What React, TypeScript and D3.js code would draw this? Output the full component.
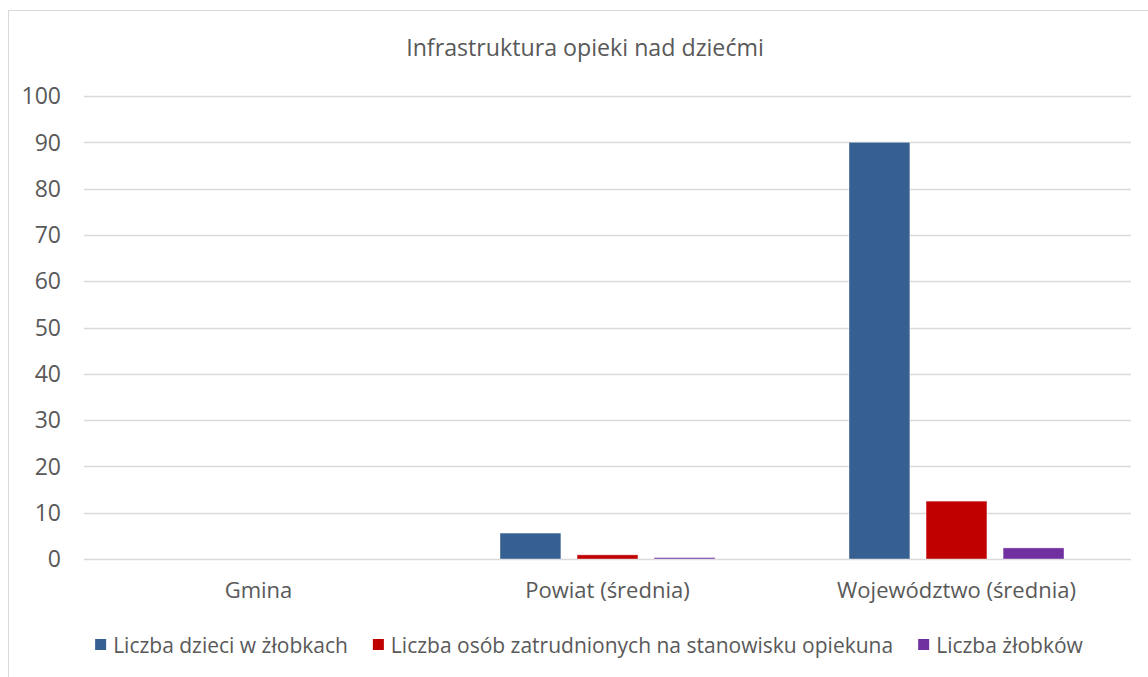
import { scaleBand, scaleLinear, select } from 'd3';
import React, { useEffect, useRef } from 'react';

const categories = ['Gmina', 'Powiat (średnia)', 'Województwo (średnia)'];
const seriesNames = [
  'Liczba dzieci w żłobkach',
  'Liczba osób zatrudnionych na stanowisku opiekuna',
  'Liczba żłobków',
];
const dzieci = [0, 5.6, 90];
const opiekunowie = [0, 0.9, 12.5];
const zlobki = [0, 0.3, 2.4];
const yTicks = [0, 10, 20, 30, 40, 50, 60, 70, 80, 90, 100];
const colors = ['#376092', '#c00000', '#7030a0'];

const W = 1148;
const H = 677;
const FONT = '"Open Sans", sans-serif';

const App: React.FC = () => {
  const svgRef = useRef<SVGSVGElement>(null);

  useEffect(() => {
    document.body.style.margin = '0';
    const svg = select(svgRef.current);
    svg.selectAll('*').remove();

    const left = 84;
    const right = 1131;
    const top = 96;
    const bottom = 559;

    const x = scaleBand().domain(categories).range([left, right]).padding(0);
    const bw = x.bandwidth();
    const inner = scaleBand()
      .domain(seriesNames)
      .range([67, bw - 67])
      .paddingInner(0.21);
    const y = scaleLinear().domain([0, 100]).range([bottom, top]);

    // chart border
    svg
      .append('rect')
      .attr('x', 8.5)
      .attr('y', 10.5)
      .attr('width', W + 20)
      .attr('height', H + 20)
      .attr('fill', 'none')
      .attr('stroke', '#d9d9d9');

    svg
      .append('text')
      .attr('x', 585)
      .attr('y', 56)
      .attr('text-anchor', 'middle')
      .attr('fill', '#595959')
      .style('font-family', FONT)
      .style('font-size', '23.2px')
      .text('Infrastruktura opieki nad dziećmi');

    // grid + y labels
    const g = svg.append('g');
    g.selectAll('.grid')
      .data(yTicks)
      .join('line')
      .attr('x1', left)
      .attr('x2', right)
      .attr('y1', (d) => Math.round(y(d)) + 0.5)
      .attr('y2', (d) => Math.round(y(d)) + 0.5)
      .attr('stroke', '#d9d9d9')
      .attr('stroke-width', 1.5);
    g.selectAll('.ylab')
      .data(yTicks)
      .join('text')
      .attr('x', 61)
      .attr('y', (d) => y(d))
      .attr('dy', '0.36em')
      .attr('text-anchor', 'end')
      .attr('fill', '#595959')
      .style('font-family', FONT)
      .style('font-size', '23px')
      .text((d) => d);

    // bars
    const series = [dzieci, opiekunowie, zlobki];
    series.forEach((vals, si) => {
      svg
        .append('g')
        .selectAll('rect')
        .data(vals.map((v, i) => ({ v, c: categories[i] })))
        .join('rect')
        .attr('x', (d) => (x(d.c) || 0) + (inner(seriesNames[si]) || 0))
        .attr('y', (d) => y(d.v))
        .attr('width', inner.bandwidth())
        .attr('height', (d) => y(0) - y(d.v))
        .attr('fill', colors[si])
        .attr('stroke', '#ffffff')
        .attr('stroke-opacity', 0.4)
        .attr('stroke-width', (d) => (d.v > 0 ? 1 : 0));
    });

    // category labels
    svg
      .selectAll('.xlab')
      .data(categories)
      .join('text')
      .attr('x', (d) => (x(d) || 0) + bw / 2)
      .attr('y', 598)
      .attr('text-anchor', 'middle')
      .attr('fill', '#595959')
      .style('font-family', FONT)
      .style('font-size', '22px')
      .text((d) => d);

    // legend, laid out from measured text widths
    const lg = svg.append('g');
    const items = seriesNames.map((name, i) => {
      const item = lg.append('g');
      item
        .append('rect')
        .attr('y', 639)
        .attr('width', 11)
        .attr('height', 11)
        .attr('fill', colors[i]);
      const t = item
        .append('text')
        .attr('x', 18)
        .attr('y', 645)
        .attr('dy', '0.36em')
        .attr('fill', '#595959')
        .style('font-family', FONT)
        .style('font-size', '21px')
        .text(name);
      const w = 18 + (t.node() as SVGTextElement).getComputedTextLength();
      return { item, w };
    });
    const gap = 25;
    const total = items.reduce((s, d) => s + d.w, 0) + gap * (items.length - 1);
    let cx = 589 - total / 2;
    items.forEach((d) => {
      d.item.attr('transform', `translate(${cx},0)`);
      cx += d.w + gap;
    });
  }, []);

  return (
    <svg
      ref={svgRef}
      width={W}
      height={H}
      style={{ display: 'block', background: '#fff' }}
    />
  );
};

export default App;
